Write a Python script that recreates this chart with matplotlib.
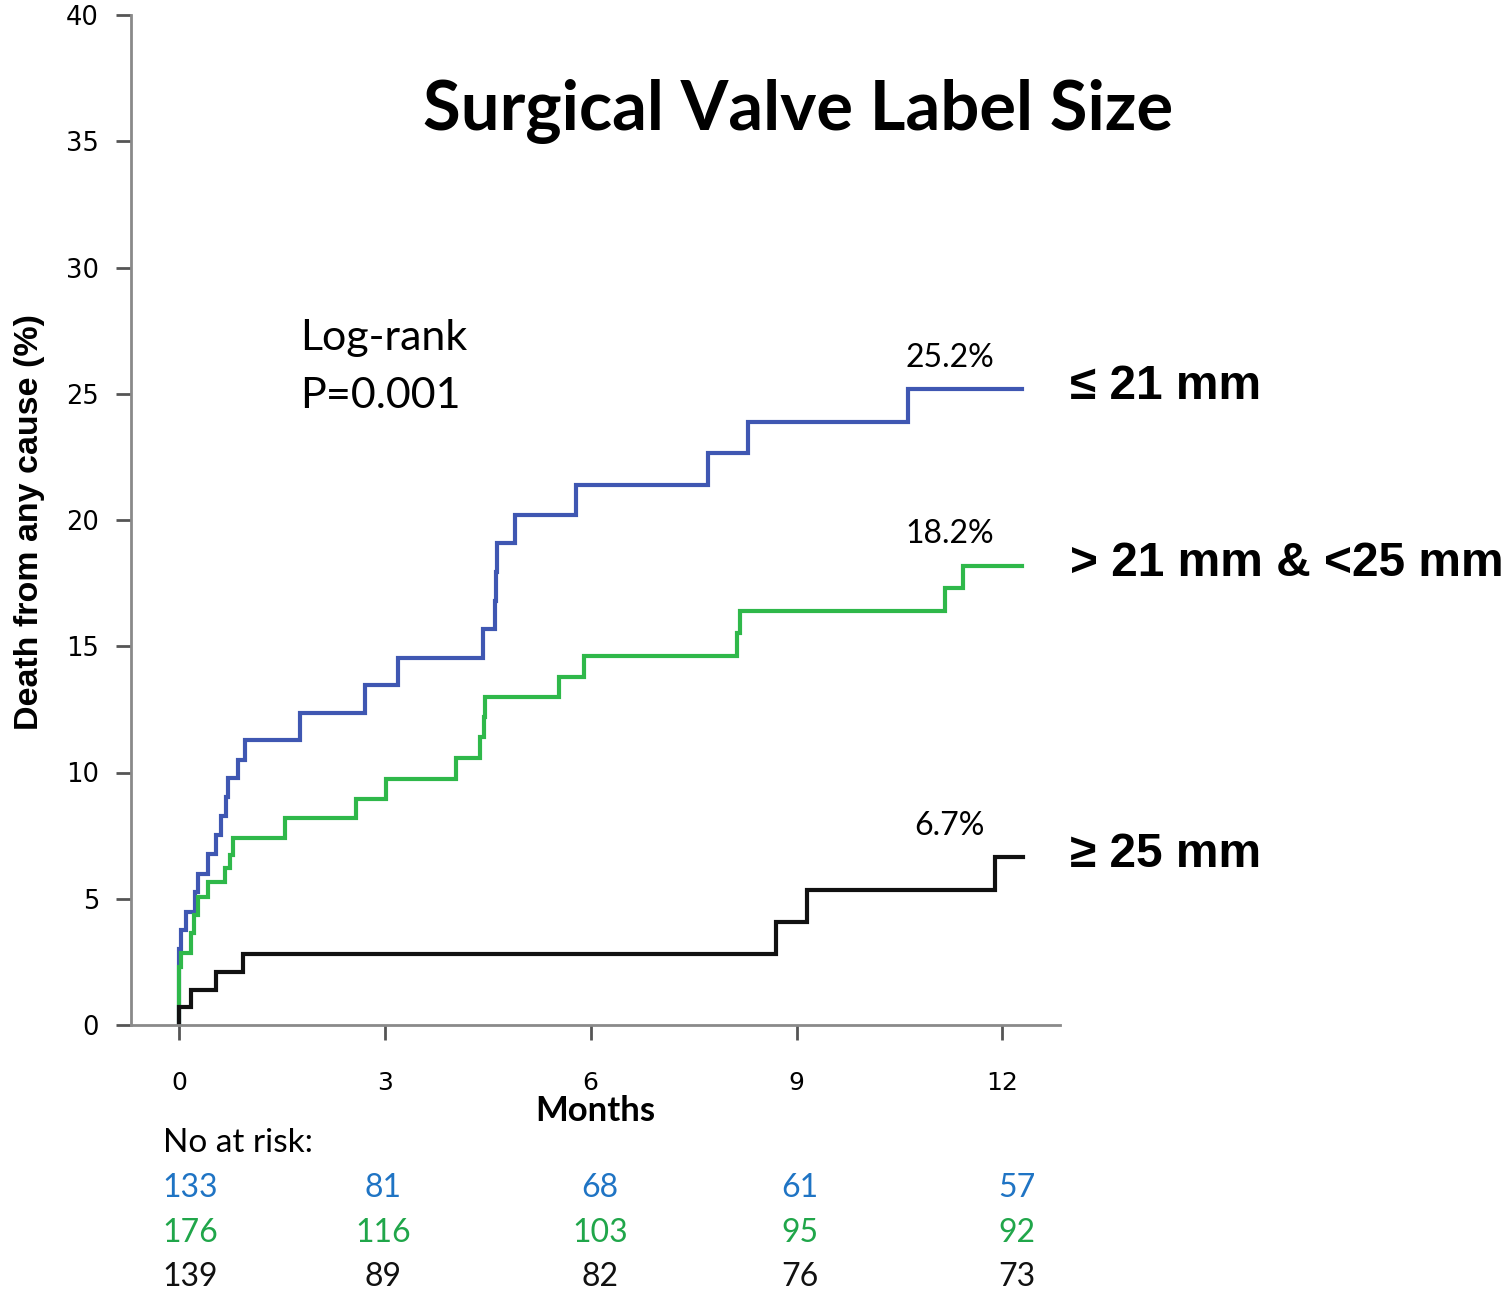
import matplotlib
matplotlib.use('Agg')
from matplotlib import pyplot

W, H = 1511, 1291

# Kaplan-Meier style curves (months, cumulative death %)
blue_t = [0, 0, 0.035, 0.108, 0.229, 0.277, 0.423, 0.545, 0.618, 0.681, 0.714,
          0.860, 0.958, 1.760, 2.707, 3.192, 4.431, 4.612, 4.624, 4.638, 4.893,
          5.793, 7.711, 8.294, 10.618, 12.28]
blue_v = [0, 3.0, 3.76, 4.49, 5.28, 6.0, 6.77, 7.52, 8.28, 9.04, 9.77,
          10.5, 11.3, 12.34, 13.46, 14.52, 15.67, 16.8, 17.95, 19.07, 20.2,
          21.39, 22.64, 23.9, 25.17, 25.17]

green_t = [0, 0, 0.035, 0.181, 0.214, 0.277, 0.423, 0.666, 0.739, 0.787, 1.541,
           2.586, 3.023, 4.033, 4.383, 4.441, 4.456, 5.539, 5.9, 8.134, 8.173,
           11.16, 11.42, 12.28]
green_v = [0, 2.3, 2.85, 3.64, 4.35, 5.08, 5.68, 6.2, 6.73, 7.39, 8.18,
           8.95, 9.74, 10.56, 11.42, 12.2, 13.0, 13.8, 14.61, 15.51, 16.4,
           17.3, 18.18, 18.18]

black_t = [0, 0, 0.181, 0.535, 0.933, 8.698, 9.146, 11.89, 12.3]
black_v = [0, 0.72, 1.39, 2.11, 2.81, 4.09, 5.35, 6.64, 6.64]

group_names = ['\u2264 21 mm', '> 21 mm & <25 mm', '\u2265 25 mm']
final_pct = ['25.2%', '18.2%', '6.7%']

x_ticks = [0, 3, 6, 9, 12]
y_ticks = [0, 5, 10, 15, 20, 25, 30, 35, 40]

risk_blue = [133, 81, 68, 61, 57]
risk_green = [176, 116, 103, 95, 92]
risk_black = [139, 89, 82, 76, 73]

line_colors = ['#3f57b2', '#2fb84a', '#111111']
risk_colors = ['#1f74c4', '#20a64a', '#111111']


def fx(x):
    return x / W


def fy(y):
    return 1 - y / H


fig = pyplot.figure(figsize=(W / 100, H / 100), dpi=100)
ax = fig.add_axes([fx(131), fy(1025), fx(1060) - fx(131), fy(15) - fy(1025)])

curves = [(blue_t, blue_v), (green_t, green_v), (black_t, black_v)]
for (t, v), c in zip(curves, line_colors):
    ax.step(t, v, where='post', color=c, lw=3, solid_joinstyle='miter')

ax.set_xlim(-0.70, 12.84)
ax.set_ylim(0, 40)
ax.set_xticks(x_ticks)
ax.set_yticks(y_ticks)
ax.set_xticklabels([str(v) for v in x_ticks], fontsize=18, fontfamily='DejaVu Sans')
ax.set_yticklabels([str(v) for v in y_ticks], fontsize=18.5, fontfamily='DejaVu Sans')
ax.tick_params(axis='x', direction='out', length=11, width=2, color='#555555', pad=22)
ax.tick_params(axis='y', direction='out', length=11, width=2, color='#555555', pad=12)
for s in ['top', 'right']:
    ax.spines[s].set_visible(False)
for s in ['left', 'bottom']:
    ax.spines[s].set_color('#8a8a8a')
    ax.spines[s].set_linewidth(2)

# labels at curve ends
for (t, v), name, pct in zip(curves, group_names, final_pct):
    ax.text(11.23, v[-1] + 1.25, pct, fontsize=23, fontfamily='Lato',
            ha='center', va='center')
    ax.text(12.98, v[-1] + 0.1, name, fontsize=34.5, fontweight='bold',
            fontfamily='Liberation Sans', ha='left', va='center', clip_on=False)

ax.text(1.76, 26.05, 'Log-rank\nP=0.001', fontsize=31, fontfamily='Lato',
        ha='left', va='center', linespacing=1.65)

fig.text(fx(798), fy(112), 'Surgical Valve Label Size', fontsize=49.5,
         fontweight='bold', fontfamily='Lato', ha='center', va='center')

fig.text(fx(30), fy(522), 'Death from any cause (%)', rotation=90, fontsize=24.5,
         fontweight='bold', fontfamily=['Liberation Sans Narrow', 'Liberation Sans'],
         ha='center', va='center')

fig.text(fx(595), fy(1111), 'Months', fontsize=25, fontweight='bold',
         fontfamily='Lato', ha='center', va='center')

fig.text(fx(163), fy(1143), 'No at risk:', fontsize=24, fontfamily='Lato',
         ha='left', va='center')

col_x = [190, 383, 600, 800, 1017]
row_y = [1188, 1233, 1277]
for row, yy, c in zip([risk_blue, risk_green, risk_black], row_y, risk_colors):
    for n, xx in zip(row, col_x):
        fig.text(fx(xx), fy(yy), str(n), fontsize=23, fontfamily='Lato',
                 color=c, ha='center', va='center')

fig.savefig('out.png', dpi=100)
